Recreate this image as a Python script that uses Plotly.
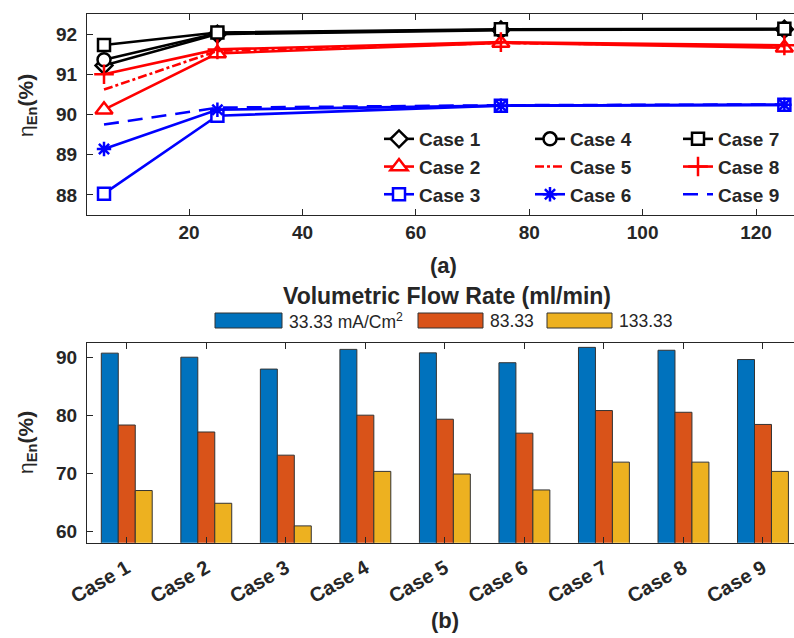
import plotly.graph_objects as go

# ---- (a) energy efficiency vs volumetric flow rate ----
flow_rate = [5, 25, 75, 125]
case_names = ["Case 1", "Case 2", "Case 3", "Case 4", "Case 5",
              "Case 6", "Case 7", "Case 8", "Case 9"]
case1 = [91.22, 92.00, 92.10, 92.12]
case2 = [90.12, 91.52, 91.78, 91.66]
case3 = [88.03, 89.97, 90.22, 90.24]
case4 = [91.36, 92.02, 92.11, 92.12]
case5 = [90.62, 91.58, 91.78, 91.70]
case6 = [89.14, 90.12, 90.22, 90.24]
case7 = [91.73, 92.04, 92.12, 92.13]
case8 = [91.00, 91.62, 91.80, 91.72]
case9 = [89.75, 90.17, 90.23, 90.25]
case_values = [case1, case2, case3, case4, case5, case6, case7, case8, case9]

# ---- (b) energy efficiency per case at three current densities ----
current_labels = ["33.33 mA/Cm<sup>2</sup>", "83.33", "133.33"]
eff_33 = [90.8, 90.1, 88.05, 91.45, 90.85, 89.15, 91.8, 91.3, 89.7]
eff_83 = [78.4, 77.2, 73.2, 80.1, 79.4, 77.0, 80.9, 80.6, 78.5]
eff_133 = [67.1, 64.9, 61.0, 70.4, 69.95, 67.2, 72.0, 72.0, 70.4]
bar_values = [eff_33, eff_83, eff_133]
bar_colors = ["#0072BD", "#D95319", "#EDB120"]

TXT = "#262626"
FONT = "Liberation Sans"
W, H = 794, 638

# line styles: (color, dash, marker symbol, marker size, legend group)
styles = [
    ("black", "solid", "diamond", 13, "legend"),
    ("red", "solid", "triangle-up", 15, "legend"),
    ("blue", "solid", "square", 12, "legend"),
    ("black", "solid", "circle", 13, "legend2"),
    ("red", "dashdot", None, 0, "legend2"),
    ("blue", "solid", "asterisk-open", 12, "legend2"),
    ("black", "solid", "square", 12, "legend3"),
    ("red", "solid", "cross-thin-open", 14, "legend3"),
    ("blue", "15px,9px", None, 0, "legend3"),
]

fig = go.Figure()
for name, vals, (col, dash, sym, size, lg) in zip(case_names, case_values, styles):
    if sym is None:
        mode = "lines"
        marker = None
    else:
        mode = "lines+markers"
        if sym.endswith("-open"):
            marker = dict(symbol=sym, size=size, color=col,
                          line=dict(color=col, width=2.5))
        else:
            marker = dict(symbol=sym, size=size, color="white",
                          line=dict(color=col, width=2.5))
    fig.add_trace(go.Scatter(
        x=flow_rate, y=vals, name=name, mode=mode,
        line=dict(color=col, width=2.6, dash=dash),
        marker=marker, legend=lg, xaxis="x", yaxis="y",
    ))

for lab, vals, col in zip(current_labels, bar_values, bar_colors):
    fig.add_trace(go.Bar(
        x=list(range(1, 10)), y=vals, name=lab, showlegend=False,
        marker=dict(color=col, line=dict(color="#333333", width=1)),
        xaxis="x2", yaxis="y2",
    ))

xdom = [87 / W, 1.0]
top_dom = [1 - 215 / H, 1 - 14 / H]
bot_dom = [1 - 542.7 / H, 1 - 343.3 / H]

tick_font = dict(family=FONT, size=19, color=TXT, weight="bold")
axis_common = dict(showline=True, linecolor=TXT, linewidth=1, ticks="inside",
                   ticklen=6, tickcolor=TXT, tickwidth=1, showgrid=False,
                   zeroline=False, tickfont=tick_font, automargin=False)

legend_common = dict(orientation="v", bgcolor="rgba(0,0,0,0)", borderwidth=0,
                     font=dict(family=FONT, size=19, color=TXT, weight="bold"),
                     xanchor="left", yanchor="top", itemwidth=30, tracegroupgap=0)
legend_y = 1 - 120 / H

fig.update_layout(
    width=W, height=H,
    margin=dict(l=0, r=0, t=0, b=0),
    paper_bgcolor="white", plot_bgcolor="white",
    font=dict(family=FONT, color=TXT),
    bargap=0.36, bargroupgap=0.0, barmode="group",
    xaxis=dict(domain=xdom, anchor="y", range=[2, 126.7],
               tickvals=[20, 40, 60, 80, 100, 120], mirror="ticks", **axis_common),
    yaxis=dict(domain=top_dom, anchor="x", range=[87.5, 92.5],
               tickvals=[88, 89, 90, 91, 92], mirror=False,
               ticklabelstandoff=5, **axis_common),
    xaxis2=dict(domain=xdom, anchor="y2", range=[0.5, 9.39],
                tickvals=list(range(1, 10)), ticktext=case_names, tickangle=-30,
                mirror="ticks", ticklabelstandoff=5,
                **{**axis_common,
                   "tickfont": dict(family=FONT, size=20, color=TXT, weight="bold")}),
    yaxis2=dict(domain=bot_dom, anchor="x2", range=[58.1, 92.5],
                tickvals=[60, 70, 80, 90], mirror=False,
                ticklabelstandoff=5, **axis_common),
    legend=dict(x=379 / W, y=legend_y, **legend_common),
    legend2=dict(x=530 / W, y=legend_y, **legend_common),
    legend3=dict(x=678 / W, y=legend_y, **legend_common),
)

title_font = dict(family=FONT, size=23, color=TXT, weight="bold")
ylab_font = dict(family=FONT, size=21, color=TXT, weight="bold")
ylab = "<span style='font-weight:normal'>η</span><sub>En</sub>(%)"
annotations = [
    dict(text="(a)", x=443 / W, y=1 - 265 / H, font=dict(title_font, size=22)),
    dict(text="Volumetric Flow Rate (ml/min)", x=447 / W, y=1 - 296 / H, font=title_font),
    dict(text="(b)", x=445 / W, y=1 - 620 / H, font=dict(title_font, size=22)),
    dict(text=ylab, x=27 / W, y=1 - 106 / H, textangle=-90, font=ylab_font),
    dict(text=ylab, x=27 / W, y=1 - 443 / H, textangle=-90, font=ylab_font),
]

# legend for the bar groups: wide swatches with labels
swatch_x = [(215, 282), (418, 483), (547, 612)]
shapes = []
for (x0, x1), col, lab in zip(swatch_x, bar_colors, current_labels):
    shapes.append(dict(type="rect", xref="paper", yref="paper",
                       x0=x0 / W, x1=x1 / W, y0=1 - 328 / H, y1=1 - 313 / H,
                       fillcolor=col, line=dict(color="#333333", width=1)))
    annotations.append(dict(text=lab, x=(x1 + 5) / W, y=1 - 320.5 / H,
                            xanchor="left",
                            font=dict(family=FONT, size=17.5, color=TXT)))

for a in annotations:
    a.setdefault("xref", "paper")
    a.setdefault("yref", "paper")
    a.setdefault("xanchor", "center")
    a.setdefault("yanchor", "middle")
    a.setdefault("showarrow", False)
fig.update_layout(annotations=annotations, shapes=shapes)

fig.write_html("out.html")
